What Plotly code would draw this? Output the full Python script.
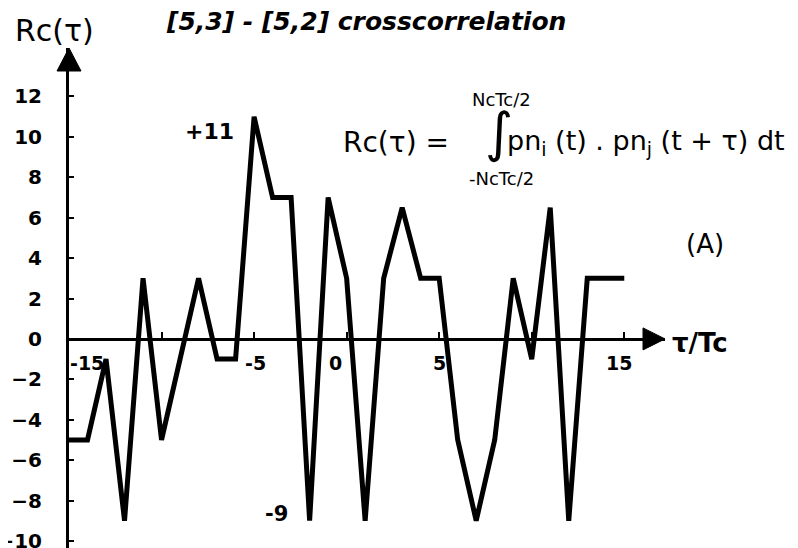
import plotly.graph_objects as go

# ---- data ----
tau = list(range(-15, 16))
rc = [-5, -5, -1, -9, 3, -5, -1, 3, -1, -1, 11, 7, 7, -9, 7, 3,
      -9, 3, 6.5, 3, 3, -5, -9, -5, 3, -1, 6.5, -9, 3, 3, 3]
y_ticks = [-10, -8, -6, -4, -2, 0, 2, 4, 6, 8, 10, 12]
x_tick_marks = [-10, -5, 0, 5, 10, 15]
x_tick_labels = ["-15", "-5", "0", "5", "15"]
x_tick_label_vals = [-15, -5, 0, 5, 15]

# ---- layout geometry (page offset of 8px from the default body margin) ----
OFF = 8
W, H = 798 - OFF, 548 - OFF
L, R, T, B = 69 - OFF, 133, 48 - OFF, 0
x_range = [-15, 17.2]
y_range = [-10.35, 14.4]


def paper(px, py):
    fx, fy = px - OFF, py - OFF
    return (fx - L) / (W - L - R), (H - B - fy) / (H - T - B)


FAM = "DejaVu Sans"

fig = go.Figure()
fig.add_trace(go.Scatter(x=tau, y=rc, mode="lines",
                         line=dict(color="black", width=5),
                         hoverinfo="skip", showlegend=False))

annotations = []


def add_text(text, px, py, size, weight="normal", style="normal",
             xanchor="left", family=FAM):
    xp, yp = paper(px, py)
    annotations.append(dict(text=text, x=xp, y=yp, xref="paper", yref="paper",
                            xanchor=xanchor, yanchor="middle", showarrow=False,
                            font=dict(family=family, size=size, color="black",
                                      weight=weight, style=style)))


# axis label, title, notes
add_text("Rc(τ)", 13, 31, 30)
add_text("[5,3] - [5,2] crosscorrelation", 164, 22, 25, weight="bold", style="italic")
add_text("+11", 183, 131, 22, weight="bold")
add_text("-9", 263, 514, 21, weight="bold")
add_text("τ/Tc", 670, 343, 26, weight="bold")
add_text("(A)", 684, 244, 26)

# formula
add_text("Rc(τ) =", 341, 143, 28)
add_text("∫", 499, 132, 54, xanchor="center")
add_text("NcTc/2", 501, 99, 18, xanchor="center")
add_text("-NcTc/2", 501, 178, 18, xanchor="center")
add_text("pn<sub>i</sub> (t) . pn<sub>j</sub> (t + τ) dt", 505, 143, 27)

# x tick labels (placed at tick values, shifted as in the source)
shifts = {-15: 18, -5: 1, 0: -11, 5: 0, 15: -5}
for v, t in zip(x_tick_label_vals, x_tick_labels):
    annotations.append(dict(text=t, x=v, y=0, xref="x", yref="y",
                            xshift=shifts[v], yshift=-24, showarrow=False,
                            xanchor="center", yanchor="middle",
                            font=dict(family=FAM, size=19, color="black",
                                      weight="bold")))

xpos = (0 - y_range[0]) / (y_range[1] - y_range[0])

shapes = [
    # y-axis arrow head
    dict(type="path", xref="paper", yref="paper", xsizemode="pixel",
         ysizemode="pixel", xanchor=0, yanchor=1,
         path="M 0,0 L -12,-23 L 12,-23 Z", fillcolor="black",
         line=dict(color="black", width=1)),
    # x-axis arrow head
    dict(type="path", xref="paper", yref="paper", xsizemode="pixel",
         ysizemode="pixel", xanchor=1, yanchor=xpos,
         path="M 0,0 L -22,11 L -22,-11 Z", fillcolor="black",
         line=dict(color="black", width=1)),
]

fig.update_layout(
    width=W, height=H,
    margin=dict(l=L, r=R, t=T, b=B),
    paper_bgcolor="white", plot_bgcolor="white",
    showlegend=False,
    annotations=annotations,
    shapes=shapes,
    xaxis=dict(range=x_range, showgrid=False, zeroline=False,
               showline=True, linecolor="black", linewidth=3,
               anchor="free", position=xpos, automargin=False,
               ticks="inside", tickvals=x_tick_marks, ticklen=6,
               tickwidth=2, tickcolor="black", showticklabels=False),
    yaxis=dict(range=y_range, showgrid=False, zeroline=False,
               showline=True, linecolor="black", linewidth=3,
               automargin=False,
               ticks="inside", tickvals=y_ticks, ticklen=5, tickwidth=2,
               tickcolor="black", ticklabelstandoff=20,
               ticklabeloverflow="allow",
               tickfont=dict(family=FAM, size=20, color="black", weight="bold")),
)

fig.write_html("out.html")
